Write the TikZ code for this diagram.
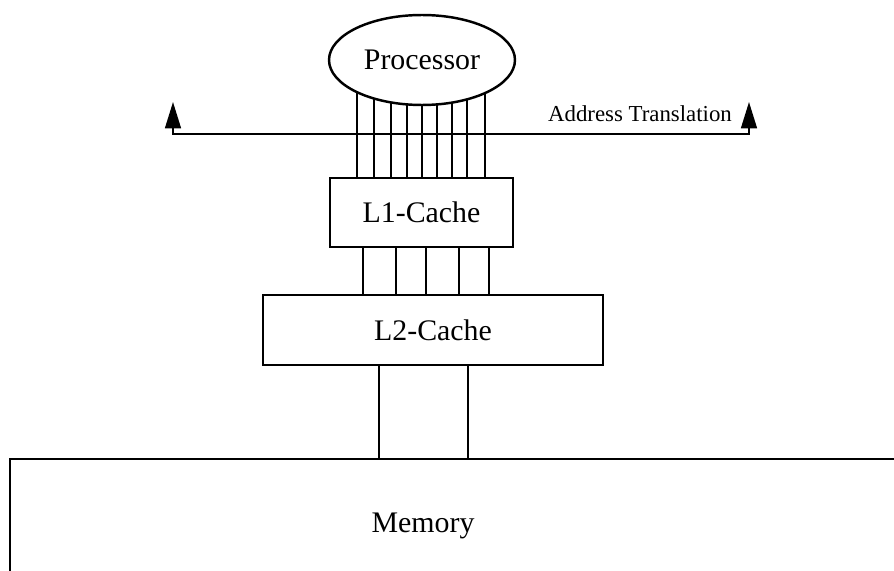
\documentclass[tikz,border=0pt]{standalone}
\usepackage{fontspec}
\setmainfont{Liberation Serif}
\usetikzlibrary{arrows.meta, shapes.geometric, backgrounds}

\begin{document}
\begin{tikzpicture}[x=0.02cm, y=-0.02cm, font=\fontsize{17}{20}\selectfont]

\tikzset{
  unit/.style={draw, line width=1.4pt, inner sep=0pt},
  cache/.style={unit, rectangle},
  wire/.style={line width=0.9pt},
  xlate/.style={line width=1.2pt, {Triangle[length=15pt,width=9pt]}-{Triangle[length=15pt,width=9pt]}}
}

\useasboundingbox (0,0) rectangle (894,571);

%units
\node[unit, ellipse, fill=white, minimum width=3.72cm, minimum height=1.8cm] (proc) at (422,60) {Processor};
\node[cache, minimum width=3.66cm, minimum height=1.38cm] (l1) at (421.5,212.5) {L1-Cache};
\node[cache, minimum width=6.8cm, minimum height=1.4cm] (l2) at (433,330) {L2-Cache};
\node[cache, minimum width=17.8cm, minimum height=2.84cm] (mem) at (455,530) {};
\node[anchor=base] (memtxt) at (423,533) {Memory};

%address translation
\coordinate (atl) at (173,102);
\coordinate (atr) at (749,102);
\draw[xlate] (atl) -- ++(0,32) -| (atr);
\node[font=\fontsize{13}{15}\selectfont, anchor=base] (atlbl) at (640,122) {Address Translation};

%wires
\begin{scope}[on background layer]
\foreach \x in {357,374,391,407,422,437,452,467,485} {
  \coordinate (px) at (\x,0);
  \draw[wire] (proc.center -| px) -- (l1.north -| px);
}
\end{scope}
\foreach \x in {363,396,426,459,489} {
  \coordinate (px) at (\x,0);
  \draw[wire] (l1.south -| px) -- (l2.north -| px);
}
\foreach \x in {379,468} {
  \coordinate (px) at (\x,0);
  \draw[wire] (l2.south -| px) -- (mem.north -| px);
}
\end{tikzpicture}
\end{document}
